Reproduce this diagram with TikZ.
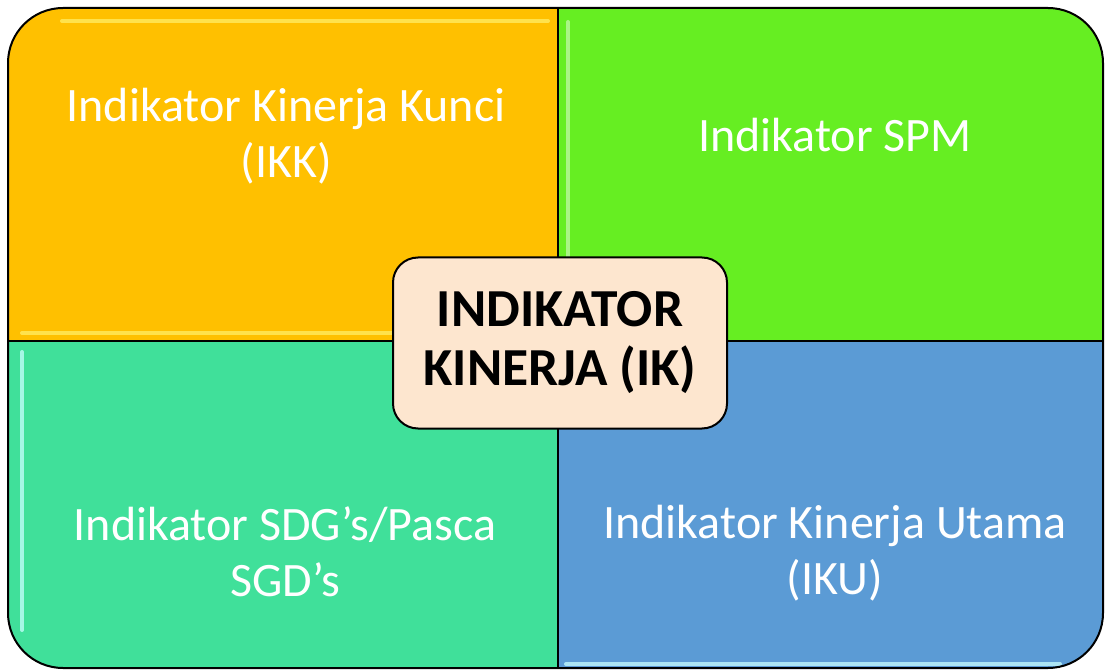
\documentclass[tikz,border=0pt]{standalone}
\usepackage{fontspec}
\setmainfont{Carlito}
\usepackage{xcolor}
\definecolor{ikkorange}{HTML}{FFC000}
\definecolor{spmgreen}{HTML}{66EE22}
\definecolor{sdgteal}{HTML}{40E09A}
\definecolor{ikublue}{HTML}{5B9BD5}
\definecolor{ikpeach}{HTML}{FDE6CF}
\definecolor{ikkshine}{HTML}{FFEE66}
\definecolor{coolshine}{HTML}{C8FFFF}

\begin{document}
\begin{tikzpicture}[x=1pt,y=1pt,
  quad/.style={fill=#1},
  shine/.style={draw=#1,line width=4pt,opacity=0.75,line cap=round},
  label/.style={text=white,align=center,font=\fontsize{48}{56}\selectfont},
  core/.style={rounded corners=25pt,draw=black,line width=2pt,fill=ikpeach,minimum width=334pt,minimum height=171pt,align=center,font=\fontsize{53.5}{59}\selectfont\bfseries}]
\useasboundingbox (0,0) rectangle (1105,670);
% four quarters, clipped by the rounded outline
\begin{scope}
\clip[rounded corners=55pt] (8,2) rectangle (1103,662);
\fill[quad=ikkorange] (8,329) rectangle (558,662);
\fill[quad=spmgreen] (558,329) rectangle (1103,662);
\fill[quad=sdgteal] (8,2) rectangle (558,329);
\fill[quad=ikublue] (558,2) rectangle (1103,329);
% bevel highlights
\draw[shine=ikkshine] (62,649) -- (548,649);
\draw[shine=ikkshine] (22,337) -- (552,337);
\draw[shine=spmgreen!40!white] (568,342) -- (568,648);
\draw[shine=coolshine] (22,40) -- (22,318);
\draw[shine=coolshine] (566,6) -- (1060,6);
\end{scope}
\draw[line width=1.5pt] (558,2) -- (558,662);
\draw[line width=1.5pt] (8,329) -- (1103,329);
\draw[line width=2pt,rounded corners=55pt] (8,2) rectangle (1103,662);
% texts
\node[label] (ikk) at (286,534) {Indikator Kinerja Kunci\\(IKK)};
\node[label] (spm) at (835,535) {Indikator SPM};
\node[label] (sdg) at (285,118) {Indikator SDG’s/Pasca\\SGD’s};
\node[label] (iku) at (835,117) {Indikator Kinerja Utama\\(IKU)};
\node[core] (ik) at (560,327) {INDIKATOR\\KINERJA (IK)};
\end{tikzpicture}
\end{document}
